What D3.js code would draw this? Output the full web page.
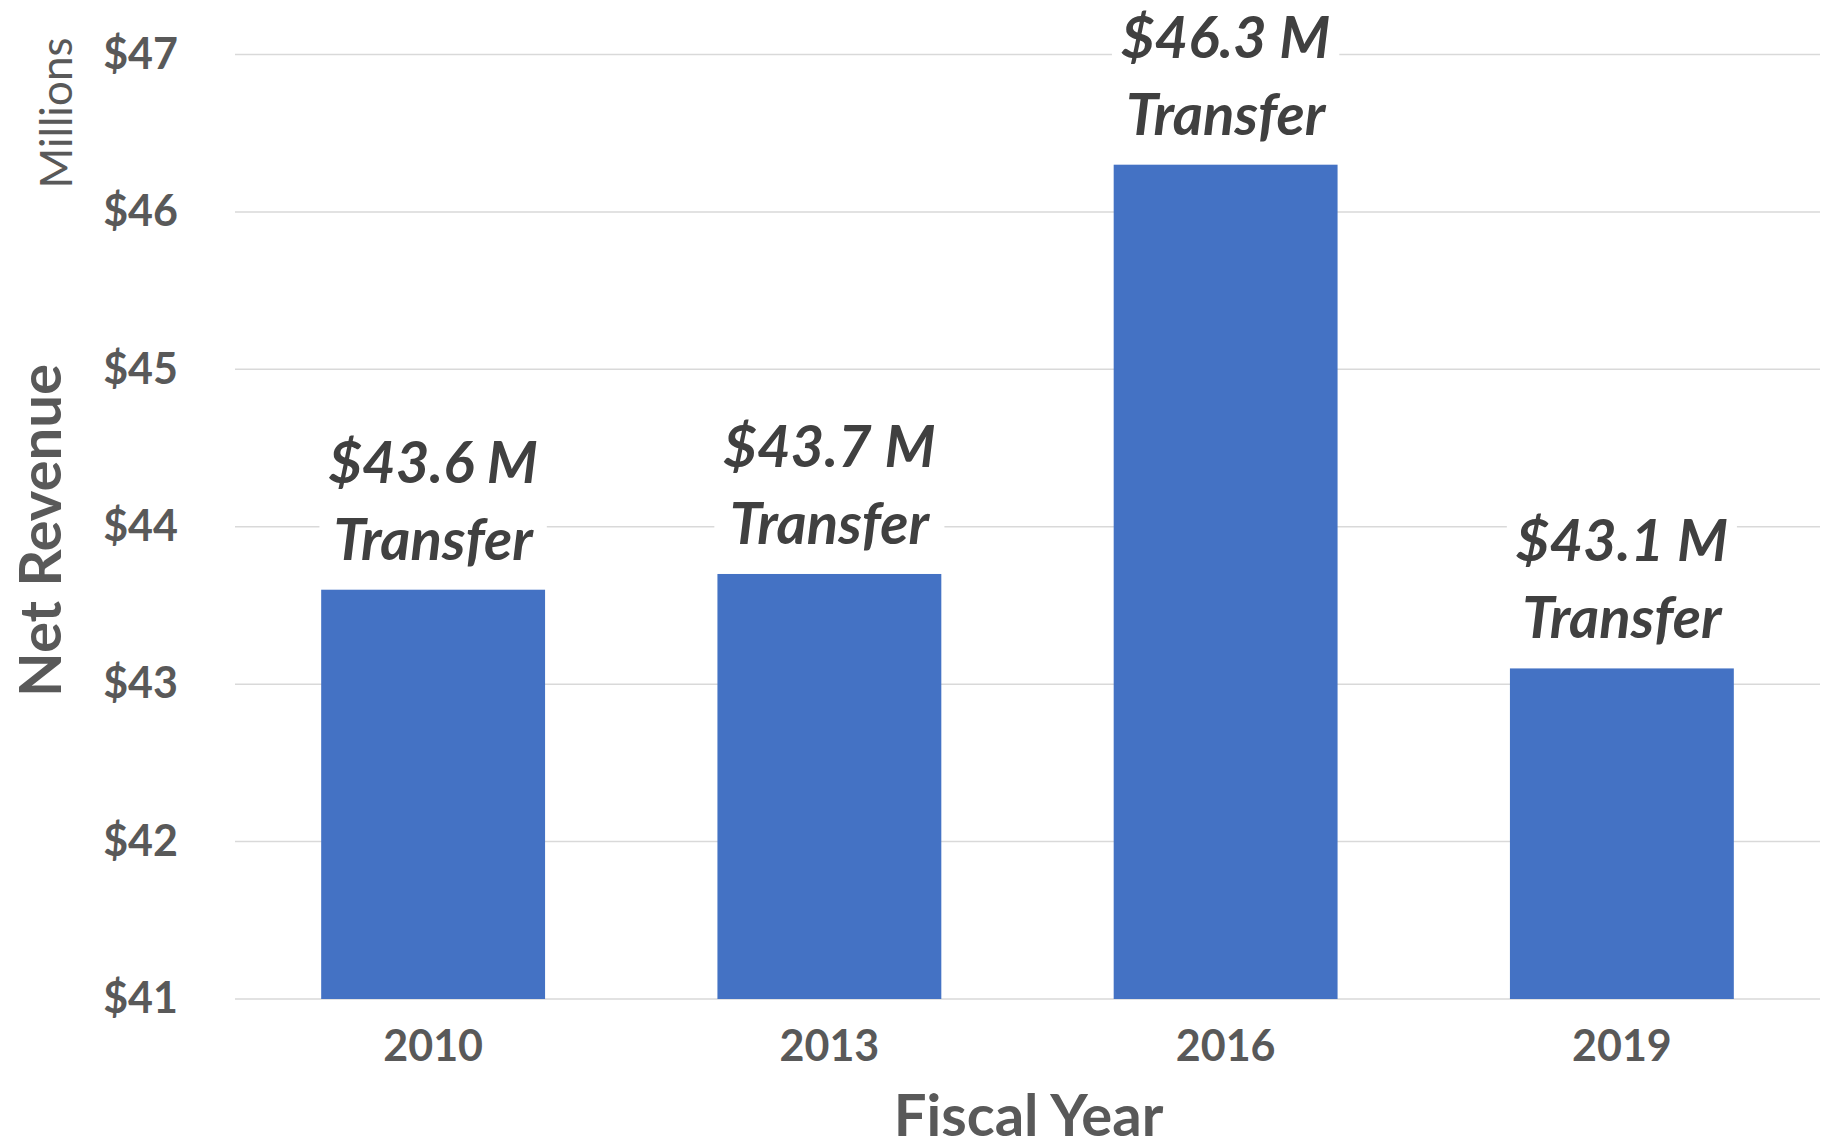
<!DOCTYPE html>
<html>
<head>
<meta charset="utf-8">
<script src="https://cdn.jsdelivr.net/npm/d3@7"></script>
<style>
  body { margin: 0; background: #fff; }
  svg, svg text { font-family: Lato, "Open Sans", sans-serif; }
  svg { display: block; }
</style>
</head>
<body>
<div id="chart"></div>
<script>
// Data
const years = ["2010", "2013", "2016", "2019"];
const revenue = [43.6, 43.7, 46.3, 43.1];
const labelLines = ["$43.6 M", "$43.7 M", "$46.3 M", "$43.1 M"];
const yTicks = [41, 42, 43, 44, 45, 46, 47];

const W = 1827, H = 1147;
const margin = { top: 54.5, right: 7, bottom: 148, left: 235 };
const width = W - margin.left - margin.right;
const height = H - margin.top - margin.bottom;

const svg = d3.select("#chart")
    .append("svg")
    .attr("width", W)
    .attr("height", H)
    .append("g")
    .attr("transform", `translate(${margin.left},${margin.top})`);

// Scales
const x = d3.scaleBand()
    .domain(years)
    .range([0, width])
    .paddingInner(0.435)
    .paddingOuter(0.2175);

const y = d3.scaleLinear()
    .domain([41, 47])
    .range([height, 0]);

// Gridlines
svg.append("g")
    .selectAll("line")
    .data(yTicks)
    .join("line")
    .attr("x1", 0)
    .attr("x2", width)
    .attr("y1", d => y(d))
    .attr("y2", d => y(d))
    .attr("stroke", "#d9d9d9")
    .attr("stroke-width", 1.5);

// Y axis labels
const yAxis = svg.append("g")
    .call(d3.axisLeft(y).tickValues(yTicks).tickFormat(d => "$" + d).tickSize(0).tickPadding(57));
yAxis.attr("font-family", null);
yAxis.select(".domain").remove();
yAxis.selectAll("text")
    .attr("fill", "#595959")
    .style("font-size", "43px")
    .style("font-weight", "bold");

// X axis labels
const xAxis = svg.append("g")
    .attr("transform", `translate(0,${height})`)
    .call(d3.axisBottom(x).tickSize(0).tickPadding(31));
xAxis.attr("font-family", null);
xAxis.select(".domain").remove();
xAxis.selectAll("text")
    .attr("fill", "#595959")
    .style("font-size", "43px")
    .style("font-weight", "bold");

// Bars
const data = years.map((yr, i) => ({ year: yr, value: revenue[i], label: labelLines[i] }));

svg.selectAll(".bar")
    .data(data)
    .join("rect")
    .attr("class", "bar")
    .attr("x", d => x(d.year))
    .attr("y", d => y(d.value))
    .attr("width", x.bandwidth())
    .attr("height", d => height - y(d.value))
    .attr("fill", "#4472c4");

// Data labels with white background
data.forEach(d => {
    const cx = x(d.year) + x.bandwidth() / 2;
    const base = y(d.value) - 30;
    const g = svg.append("g");
    const bg = g.append("rect").attr("fill", "#fff");
    const t = g.append("text")
        .attr("text-anchor", "middle")
        .attr("fill", "#404040")
        .style("font-size", "58px")
        .style("font-weight", "bold")
        .style("font-style", "italic");
    t.append("tspan").attr("x", cx).attr("y", base - 77).text(d.label);
    t.append("tspan").attr("x", cx).attr("y", base).text("Transfer");
    const bb = t.node().getBBox();
    bg.attr("x", bb.x - 9).attr("y", bb.y)
        .attr("width", bb.width + 18).attr("height", bb.height);
});

// Axis titles
svg.append("text")
    .attr("x", 1028.5 - margin.left)
    .attr("y", 1136 - margin.top)
    .attr("text-anchor", "middle")
    .attr("fill", "#595959")
    .style("font-size", "58px")
    .style("font-weight", "bold")
    .text("Fiscal Year");

svg.append("text")
    .attr("transform", `translate(${61 - margin.left},${530.5 - margin.top}) rotate(-90)`)
    .attr("text-anchor", "middle")
    .attr("fill", "#595959")
    .style("font-size", "58px")
    .style("font-weight", "bold")
    .text("Net Revenue");

svg.append("text")
    .attr("transform", `translate(${72 - margin.left},${113 - margin.top}) rotate(-90)`)
    .attr("text-anchor", "middle")
    .attr("fill", "#595959")
    .style("font-size", "44px")
    .text("Millions");
</script>
</body>
</html>
